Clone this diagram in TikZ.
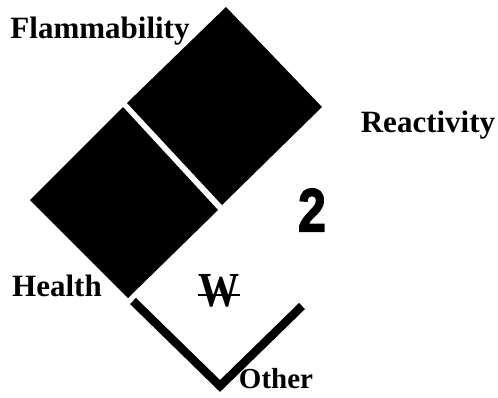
\documentclass[tikz,border=0pt]{standalone}
\usepackage{fontspec}
\setmainfont{Liberation Serif}
\newfontfamily\numfont[BoldFeatures={FakeBold=2.5}]{Liberation Sans}
\definecolor{SIGNblack}{HTML}{000000}
\usetikzlibrary{calc, positioning}

\tikzset{
  label text/.style={anchor=base, inner sep=0pt, font=\fontsize{31}{31}\selectfont\bfseries},
  hazard sq/.style={fill=SIGNblack, draw=none}
}

\begin{document}
\begin{tikzpicture}[x=1pt, y=-1pt]
            \useasboundingbox (0,0) rectangle (498,397);
            % Flammability square (top)
            \fill[hazard sq] (226,7) -- (322,107) -- (222,205) -- (127,103) -- cycle;
            % Health square (left)
            \fill[hazard sq] (123,107) -- (218,210) -- (128,298) -- (30,200) -- cycle;
            % Other square: only its lower edges
            \draw[SIGNblack, line width=8.5pt, miter limit=10]
               (133,301) -- (220,386) -- (302,306);
            % Labels
            \node[label text] (flam) at (100,38) {Flammability};
            \node[label text] (react) at (428,132) {Reactivity};
            \node[label text] (health) at (57,296) {Health};
            \node[label text, font=\fontsize{29}{29}\selectfont\bfseries] (other) at (276,388) {Other};
            % Reactivity rating
            \node[inner sep=0pt, font=\fontsize{61}{61}\numfont\bfseries] (rnum) at (312,210)
               {\scalebox{0.82}[1]{2}};
            % Water-reactive mark
            \node[inner sep=0pt, font=\fontsize{49}{49}\selectfont\bfseries] (water) at (219,291)
               {\scalebox{0.84}[1]{W}};
            \draw[SIGNblack, line width=2pt]
               ([yshift=-4pt]water.west) -- ([yshift=-4pt]water.east);
\end{tikzpicture}
\end{document}
